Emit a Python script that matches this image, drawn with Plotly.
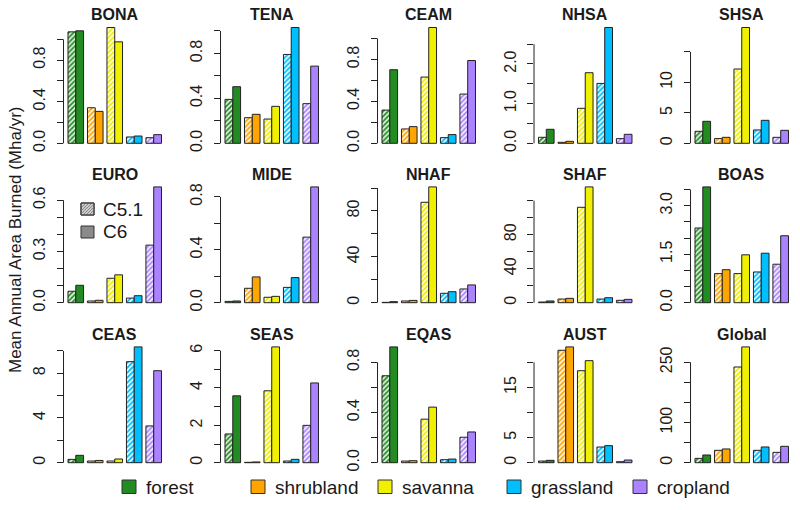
import plotly.graph_objects as go

# ---------------- data ----------------
REGIONS = ["BONA", "TENA", "CEAM", "NHSA", "SHSA",
           "EURO", "MIDE", "NHAF", "SHAF", "BOAS",
           "CEAS", "SEAS", "EQAS", "AUST", "Global"]
COVERS = ["forest", "shrubland", "savanna", "grassland", "cropland"]
COLORS = ["#228B22", "#FFA500", "#F0F000", "#00BFFF", "#AB82FF"]

C51 = {
    "BONA":   [1.072, 0.342, 1.114, 0.061, 0.054],
    "TENA":   [0.391, 0.228, 0.216, 0.791, 0.353],
    "CEAM":   [0.317, 0.137, 0.632, 0.054, 0.470],
    "NHSA":   [0.151, 0.025, 0.882, 1.51, 0.118],
    "SHSA":   [1.97, 0.77, 12.19, 2.19, 0.98],
    "EURO":   [0.067, 0.010, 0.143, 0.027, 0.337],
    "MIDE":   [0.010, 0.109, 0.041, 0.116, 0.496],
    "NHAF":   [0.3, 1.5, 87.6, 8.2, 12.0],
    "SHAF":   [0.8, 4.3, 112.2, 4.3, 2.8],
    "BOAS":   [2.31, 0.90, 0.90, 0.95, 1.19],
    "CEAS":   [0.30, 0.15, 0.15, 9.04, 3.29],
    "SEAS":   [1.54, 0.02, 3.85, 0.09, 2.00],
    "EQAS":   [0.693, 0.013, 0.347, 0.024, 0.203],
    "AUST":   [0.33, 22.4, 18.33, 3.13, 0.20],
    "Global": [10.8, 30.8, 238.3, 30.8, 25.8],
}
C6 = {
    "BONA":   [1.082, 0.307, 0.976, 0.070, 0.083],
    "TENA":   [0.504, 0.258, 0.329, 1.031, 0.687],
    "CEAM":   [0.702, 0.159, 1.105, 0.083, 0.790],
    "NHSA":   [0.353, 0.05, 1.78, 2.92, 0.227],
    "SHSA":   [3.61, 0.98, 19.0, 3.77, 2.13],
    "EURO":   [0.102, 0.014, 0.163, 0.041, 0.678],
    "MIDE":   [0.013, 0.195, 0.048, 0.190, 0.876],
    "NHAF":   [0.9, 2.0, 101.0, 9.6, 15.5],
    "SHAF":   [2.0, 5.1, 136.2, 5.9, 3.9],
    "BOAS":   [3.58, 1.02, 1.48, 1.53, 2.07],
    "CEAS":   [0.66, 0.20, 0.33, 10.36, 8.23],
    "SEAS":   [3.58, 0.04, 6.2, 0.18, 4.27],
    "EQAS":   [0.923, 0.016, 0.443, 0.029, 0.245],
    "AUST":   [0.47, 23.07, 20.33, 3.40, 0.53],
    "Global": [19.2, 34.2, 288.3, 39.2, 40.8],
}

# tick values and labels (R drops overlapping labels -> blanks)
TICK_VALS = {
    "BONA": [0, 0.2, 0.4, 0.6, 0.8, 1.0],
    "TENA": [0, 0.2, 0.4, 0.6, 0.8, 1.0],
    "CEAM": [0, 0.2, 0.4, 0.6, 0.8, 1.0],
    "NHSA": [0, 0.5, 1.0, 1.5, 2.0, 2.5],
    "SHSA": [0, 5, 10, 15],
    "EURO": [0, 0.1, 0.2, 0.3, 0.4, 0.5, 0.6],
    "MIDE": [0, 0.2, 0.4, 0.6, 0.8],
    "NHAF": [0, 20, 40, 60, 80, 100],
    "SHAF": [0, 20, 40, 60, 80, 100, 120],
    "BOAS": [0, 0.5, 1.0, 1.5, 2.0, 2.5, 3.0, 3.5],
    "CEAS": [0, 2, 4, 6, 8, 10],
    "SEAS": [0, 1, 2, 3, 4, 5, 6],
    "EQAS": [0, 0.2, 0.4, 0.6, 0.8],
    "AUST": [0, 5, 10, 15, 20],
    "Global": [0, 50, 100, 150, 200, 250],
}
TICK_TEXT = {
    "BONA": ["0.0", "", "0.4", "", "0.8", ""],
    "TENA": ["0.0", "", "0.4", "", "0.8", ""],
    "CEAM": ["0.0", "", "0.4", "", "0.8", ""],
    "NHSA": ["0.0", "", "1.0", "", "2.0", ""],
    "SHSA": ["0", "5", "10", ""],
    "EURO": ["0.0", "", "", "0.3", "", "", "0.6"],
    "MIDE": ["0.0", "", "0.4", "", "0.8"],
    "NHAF": ["0", "", "40", "", "80", ""],
    "SHAF": ["0", "", "40", "", "80", "", ""],
    "BOAS": ["0.0", "", "", "1.5", "", "", "3.0", ""],
    "CEAS": ["0", "", "4", "", "8", ""],
    "SEAS": ["0", "", "2", "", "4", "", "6"],
    "EQAS": ["0.0", "", "0.4", "", "0.8"],
    "AUST": ["0", "5", "", "15", ""],
    "Global": ["0", "", "100", "", "", "250"],
}

YLABEL = "Mean Annual Area Burned (Mha/yr)"
VERSIONS = ["C5.1", "C6"]

# ---------------- layout geometry (pixels) ----------------
W, H = 800, 510
FONT = "Liberation Sans, Arial, Helvetica, sans-serif"
INK = "#1a1a1a"
BAR_START = [68, 225, 382, 538.5, 695]
BAR_SPAN = 93.5
ZERO_Y = [143.3, 302.7, 462.7]
MAX_H = 115.8
TITLE_Y = [14, 174, 334]

def px_x(p):
    return p / W

def px_y(p):
    return 1 - p / H

unit = BAR_SPAN / 4.8
XR = [-0.63, 4.5]

fig = go.Figure()
layout = dict(
    width=W, height=H, autosize=False,
    margin=dict(l=0, r=0, t=0, b=0, pad=0),
    paper_bgcolor="white", plot_bgcolor="white",
    showlegend=False, barmode="overlay",
    font=dict(family=FONT, color=INK),
)
shapes = []
annotations = []

for i, reg in enumerate(REGIONS):
    r, c = divmod(i, 5)
    n = i + 1
    xa = "x" if n == 1 else f"x{n}"
    ya = "y" if n == 1 else f"y{n}"
    left_px = BAR_START[c] - (-(XR[0]) - 0.4) * unit
    right_px = left_px + (XR[1] - XR[0]) * unit
    vals_a, vals_b = C51[reg], C6[reg]
    M = max(vals_a + vals_b)
    yr = [-0.04 * M, 1.04 * M]
    bot_px = ZERO_Y[r] + 0.04 * MAX_H
    top_px = ZERO_Y[r] - 1.04 * MAX_H

    fig.add_trace(go.Bar(
        x=COVERS, y=vals_a, xaxis=xa, yaxis=ya, name="C5.1",
        width=0.4, offset=-0.4,
        marker=dict(color="white",
                    line=dict(color="#222", width=1),
                    pattern=dict(shape="/", fgcolor=COLORS, bgcolor="white",
                                 size=3.5, solidity=0.55, fillmode="replace")),
        hoverinfo="x+y",
    ))
    fig.add_trace(go.Bar(
        x=COVERS, y=vals_b, xaxis=xa, yaxis=ya, name="C6",
        width=0.4, offset=0.0,
        marker=dict(color=COLORS, line=dict(color="#222", width=1)),
        hoverinfo="x+y",
    ))

    xkey = "xaxis" if n == 1 else f"xaxis{n}"
    ykey = "yaxis" if n == 1 else f"yaxis{n}"
    layout[xkey] = dict(domain=[px_x(left_px), px_x(right_px)], range=XR,
                        anchor=ya, showticklabels=False, ticks="",
                        showgrid=False, zeroline=False, showline=False,
                        type="category", fixedrange=True, automargin=False)
    layout[ykey] = dict(domain=[px_y(bot_px), px_y(top_px)], range=yr,
                        anchor=xa, showgrid=False, zeroline=False,
                        showline=False, ticks="outside", ticklen=6,
                        tickwidth=1, tickcolor="#222",
                        tickvals=TICK_VALS[reg], ticktext=TICK_TEXT[reg],
                        tickangle=-90, ticklabelstandoff=5,
                        tickfont=dict(family=FONT, size=16, color=INK),
                        fixedrange=True, automargin=False)
    # R style axis line: only from first to last tick
    shapes.append(dict(type="line", xref=f"{xa} domain", yref=ya,
                       x0=0, x1=0, y0=TICK_VALS[reg][0], y1=TICK_VALS[reg][-1],
                       line=dict(color="#222", width=1)))
    annotations.append(dict(text=f"<b>{reg}</b>", xref="paper", yref="paper",
                            x=px_x(BAR_START[c] + BAR_SPAN / 2), y=px_y(TITLE_Y[r]),
                            xanchor="center", yanchor="middle", showarrow=False,
                            font=dict(family=FONT, size=16, color=INK)))

# y-axis label
annotations.append(dict(text=YLABEL, xref="paper", yref="paper",
                        x=px_x(15), y=px_y(240), textangle=-90,
                        xanchor="center", yanchor="middle", showarrow=False,
                        font=dict(family=FONT, size=17, color=INK)))

# version legend (C5.1 hatched, C6 solid)
def rect(x0, y0, x1, y1, fill, lw=1):
    return dict(type="rect", xref="paper", yref="paper",
                x0=px_x(x0), x1=px_x(x1), y0=px_y(y1), y1=px_y(y0),
                fillcolor=fill, line=dict(color="#333", width=lw))

bx0, bx1 = 81, 94
sw = [(203, 215), (226, 238)]
shapes.append(rect(bx0, sw[0][0], bx1, sw[0][1], "white"))
y0s, y1s = sw[0]
cval = bx0 + y0s + 2
while cval < bx1 + y1s:
    xa_ = max(bx0, cval - y1s)
    xb_ = min(bx1, cval - y0s)
    if xb_ > xa_:
        shapes.append(dict(type="line", xref="paper", yref="paper",
                           x0=px_x(xa_), y0=px_y(cval - xa_),
                           x1=px_x(xb_), y1=px_y(cval - xb_),
                           line=dict(color="#8a8a8a", width=1.2)))
    cval += 3
shapes.append(rect(bx0, sw[0][0], bx1, sw[0][1], "rgba(0,0,0,0)"))
shapes.append(rect(bx0, sw[1][0], bx1, sw[1][1], "#8a8a8a"))
for (ya0, ya1), lab in zip(sw, VERSIONS):
    annotations.append(dict(text=lab, xref="paper", yref="paper",
                            x=px_x(101), y=px_y((ya0 + ya1) / 2),
                            xanchor="left", yanchor="middle", showarrow=False,
                            font=dict(family=FONT, size=19, color=INK)))

# land-cover legend at the bottom
LEG_BOX_X = [122, 251, 378, 507, 633]
for bx, lab, col in zip(LEG_BOX_X, COVERS, COLORS):
    shapes.append(rect(bx, 480, bx + 14, 493.5, col))
    annotations.append(dict(text=lab, xref="paper", yref="paper",
                            x=px_x(bx + 22), y=px_y(487),
                            xanchor="left", yanchor="middle", showarrow=False,
                            font=dict(family=FONT, size=19, color=INK)))

layout["shapes"] = shapes
layout["annotations"] = annotations
fig.update_layout(**layout)
fig.write_html("out.html",
               config={"displayModeBar": False},
               post_script="document.body.style.margin='0px';"
                           "document.body.style.overflow='hidden';")
